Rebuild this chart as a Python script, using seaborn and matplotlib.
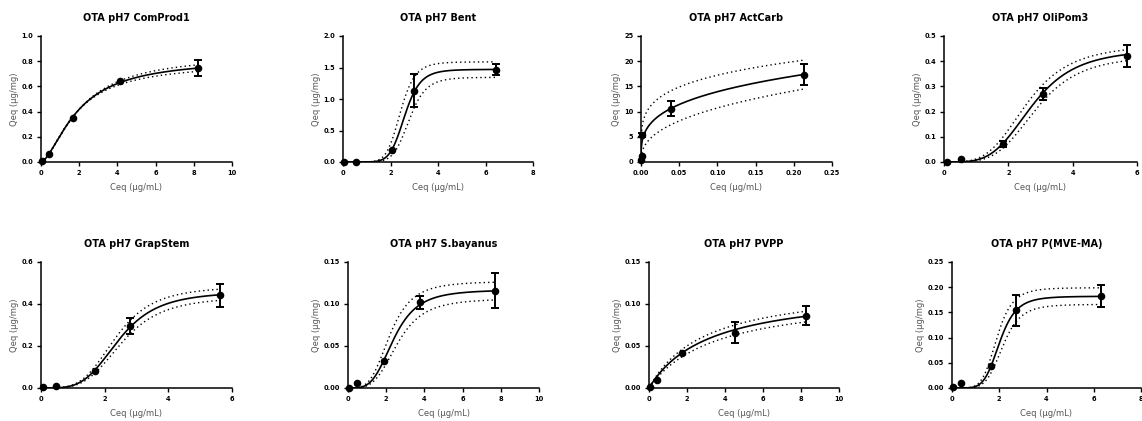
import numpy as np
import matplotlib
matplotlib.use("Agg")
import matplotlib.pyplot as plt
import seaborn as sns

# ---- panel titles -------------------------------------------------------
titles = ["OTA pH7 ComProd1", "OTA pH7 Bent", "OTA pH7 ActCarb", "OTA pH7 OliPom3",
          "OTA pH7 GrapStem", "OTA pH7 S.bayanus", "OTA pH7 PVPP", "OTA pH7 P(MVE-MA)"]

# ---- measured equilibrium data (mean and SD) ----------------------------
ceq_comprod1 = [0.05, 0.40, 1.65, 4.15, 8.20]
qeq_comprod1 = [0.010, 0.060, 0.352, 0.640, 0.745]
sd_comprod1 = [0, 0, 0, 0, 0.066]

ceq_bent = [0.05, 0.55, 2.05, 3.00, 6.43]
qeq_bent = [0.0, 0.0, 0.19, 1.13, 1.466]
sd_bent = [0, 0, 0, 0.26, 0.092]

ceq_actcarb = [0.0005, 0.0008, 0.0013, 0.039, 0.2137]
qeq_actcarb = [0.3, 1.1, 5.3, 10.6, 17.35]
sd_actcarb = [0, 0, 0.4, 1.5, 2.1]

ceq_olipom3 = [0.10, 0.52, 1.83, 3.09, 5.69]
qeq_olipom3 = [0.0, 0.012, 0.073, 0.271, 0.420]
sd_olipom3 = [0, 0, 0.012, 0.023, 0.043]

ceq_grapstem = [0.05, 0.47, 1.71, 2.80, 5.63]
qeq_grapstem = [0.003, 0.011, 0.083, 0.294, 0.441]
sd_grapstem = [0, 0, 0, 0.039, 0.054]

ceq_sbayanus = [0.07, 0.47, 1.90, 3.79, 7.69]
qeq_sbayanus = [0.0, 0.0056, 0.032, 0.102, 0.116]
sd_sbayanus = [0, 0, 0, 0.008, 0.021]

ceq_pvpp = [0.05, 0.40, 1.73, 4.52, 8.28]
qeq_pvpp = [0.0008, 0.0099, 0.0417, 0.0655, 0.0861]
sd_pvpp = [0, 0, 0, 0.0125, 0.0113]

ceq_pmvema = [0.03, 0.36, 1.66, 2.72, 6.32]
qeq_pmvema = [0.001, 0.0106, 0.0443, 0.154, 0.1825]
sd_pmvema = [0, 0, 0, 0.030, 0.022]

# ---- fitted isotherm parameters: best fit, upper and lower 95% band -----
# Sips (Hill) model: (qmax, k, n)
fit_comprod1 = [(0.82, 1.95, 1.6), (0.855, 2.05, 1.6), (0.785, 1.85, 1.6)]
fit_bent = [(1.47, 2.60, 8.0), (1.59, 2.42, 8.0), (1.345, 2.79, 8.0)]
fit_olipom3 = [(0.45, 2.75, 4.0), (0.468, 2.59, 3.8), (0.425, 2.88, 4.2)]
fit_grapstem = [(0.46, 2.45, 4.0), (0.485, 2.36, 4.0), (0.435, 2.55, 4.0)]
fit_sbayanus = [(0.117, 2.40, 3.8), (0.127, 2.20, 3.8), (0.1065, 2.60, 3.8)]
fit_pvpp = [(0.1183, 3.18, 1.0), (0.124, 2.95, 1.0), (0.112, 3.50, 1.0)]
fit_pmvema = [(0.182, 2.02, 5.75), (0.199, 1.90, 5.75), (0.166, 2.15, 5.75)]
# Freundlich model: (kf, m)
fit_actcarb = [(27.2, 0.29), (28.0, 0.211), (26.7, 0.396)]

# ---- axis ranges and ticks ----------------------------------------------
x_ticks = [[0, 2, 4, 6, 8, 10], [0, 2, 4, 6, 8], [0, 0.05, 0.10, 0.15, 0.20, 0.25],
           [0, 2, 4, 6], [0, 2, 4, 6], [0, 2, 4, 6, 8, 10], [0, 2, 4, 6, 8, 10],
           [0, 2, 4, 6, 8]]
y_ticks = [[0, 0.2, 0.4, 0.6, 0.8, 1.0], [0, 0.5, 1.0, 1.5, 2.0], [0, 5, 10, 15, 20, 25],
           [0, 0.1, 0.2, 0.3, 0.4, 0.5], [0, 0.2, 0.4, 0.6], [0, 0.05, 0.10, 0.15],
           [0, 0.05, 0.10, 0.15], [0, 0.05, 0.10, 0.15, 0.20, 0.25]]
x_decimals = [0, 0, 2, 0, 0, 0, 0, 0]
y_decimals = [1, 1, 0, 1, 1, 2, 2, 2]

x_label = "Ceq (µg/mL)"
y_label = "Qeq (µg/mg)"


def sips(c, p):
    qmax, k, n = p
    r = (c / k) ** n
    return qmax * r / (1.0 + r)


def freundlich(c, p):
    kf, m = p
    return kf * c ** m


panels = [
    (ceq_comprod1, qeq_comprod1, sd_comprod1, fit_comprod1, sips),
    (ceq_bent, qeq_bent, sd_bent, fit_bent, sips),
    (ceq_actcarb, qeq_actcarb, sd_actcarb, fit_actcarb, freundlich),
    (ceq_olipom3, qeq_olipom3, sd_olipom3, fit_olipom3, sips),
    (ceq_grapstem, qeq_grapstem, sd_grapstem, fit_grapstem, sips),
    (ceq_sbayanus, qeq_sbayanus, sd_sbayanus, fit_sbayanus, sips),
    (ceq_pvpp, qeq_pvpp, sd_pvpp, fit_pvpp, sips),
    (ceq_pmvema, qeq_pmvema, sd_pmvema, fit_pmvema, sips),
]

# ---- figure layout (pixel boxes of each axes: left, top, width, height) --
W, H = 1142, 421
boxes = [(41, 36, 191, 126), (343, 36, 190, 126), (641, 36, 191, 126), (944, 36, 193, 126),
         (41, 262, 191, 126), (348, 262, 191, 126), (649, 262, 190, 126), (952, 262, 189, 126)]

sns.set_theme(style="ticks")
plt.rcParams["font.family"] = ["DejaVu Sans"]
plt.rcParams["axes.linewidth"] = 1.0

fig = plt.figure(figsize=(W / 100, H / 100), dpi=100)
fig.patch.set_facecolor("white")

for i, (ceq, qeq, sd, fits, model) in enumerate(panels):
    l, t, w, h = boxes[i]
    ax = fig.add_axes([l / W, (H - t - h) / H, w / W, h / H])
    ax.set_facecolor("white")

    ceq = np.asarray(ceq, float)
    qeq = np.asarray(qeq, float)
    sd = np.asarray(sd, float)

    if model is freundlich:
        cx = np.concatenate([[0.0], np.geomspace(1e-6, ceq.max(), 600)])
    else:
        cx = np.linspace(0.0, ceq.max(), 600)

    # confidence band (dotted) and best-fit curve (solid)
    for j, p in enumerate(fits):
        cy = model(cx, p)
        if j == 0:
            sns.lineplot(x=cx, y=cy, ax=ax, color="black", linewidth=1.2,
                         sort=False, estimator=None, zorder=3)
        else:
            sns.lineplot(x=cx, y=cy, ax=ax, color="black", linewidth=1.0,
                         linestyle=(0, (1, 2.2)), sort=False, estimator=None, zorder=2)

    # error bars for replicates whose spread exceeds the symbol
    m = sd > 0
    if m.any():
        ax.errorbar(ceq[m], qeq[m], yerr=sd[m], fmt="none", ecolor="black",
                    elinewidth=1.4, capsize=3.2, capthick=1.4, zorder=4, clip_on=False)

    sns.scatterplot(x=ceq, y=qeq, ax=ax, color="black", s=30, linewidth=0,
                    zorder=5, clip_on=False)

    ax.set_xlim(x_ticks[i][0], x_ticks[i][-1])
    ax.set_ylim(y_ticks[i][0], y_ticks[i][-1])
    ax.set_xticks(x_ticks[i])
    ax.set_yticks(y_ticks[i])
    ax.set_xticklabels([f"{v:.{x_decimals[i]}f}" for v in x_ticks[i]])
    ax.set_yticklabels([f"{v:.{y_decimals[i]}f}" for v in y_ticks[i]])
    ax.tick_params(axis="both", direction="out", length=3, width=1.0,
                   color="black", pad=2.5, labelsize=4.8)
    for lab in ax.get_xticklabels() + ax.get_yticklabels():
        lab.set_fontweight("bold")
        lab.set_color("black")

    sns.despine(ax=ax)
    for side in ("left", "bottom"):
        ax.spines[side].set_color("black")
        ax.spines[side].set_linewidth(1.1)

    ax.set_xlabel(x_label, fontsize=6.0, color="#555555", labelpad=5.5)
    ax.set_ylabel(y_label, fontsize=6.0, color="#555555", labelpad=2)
    ax.set_title(titles[i], fontsize=7.0, fontweight="bold", color="black", pad=10.5)

fig.savefig("out.png", dpi=100, facecolor="white")
